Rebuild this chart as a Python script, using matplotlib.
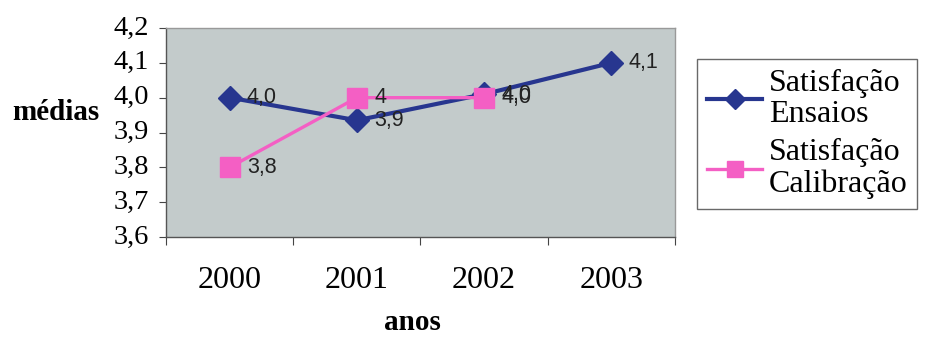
import matplotlib
matplotlib.use("Agg")
import matplotlib.pyplot as plt
from matplotlib.lines import Line2D

anos = ["2000", "2001", "2002", "2003"]
ensaios = [4.00, 3.935, 4.01, 4.10]
ensaios_lbl = ["4,0", "3,9", "4,0", "4,1"]
calibracao = [3.80, 4.00, 4.00]
calibracao_lbl = ["3,8", "4", "4,0"]
yticks = [3.6, 3.7, 3.8, 3.9, 4.0, 4.1, 4.2]
ytick_lbl = ["3,6", "3,7", "3,8", "3,9", "4,0", "4,1", "4,2"]

blue = "#27368f"
pink = "#f45fc4"
serif = "Liberation Serif"
sans = "Liberation Sans"

fig = plt.figure(figsize=(9.32, 3.4), dpi=100)
ax = fig.add_axes([166/932, 1-237/340, (675-166)/932, (237-28)/340])
ax.set_facecolor("#c3cbcb")

x = list(range(len(anos)))
ax.plot(x, ensaios, color=blue, lw=3.0, marker="D", ms=12, zorder=3)
ax.plot(x[:len(calibracao)], calibracao, color=pink, lw=2.4, marker="s", ms=15, zorder=4)

for xi, v, t in zip(x, ensaios, ensaios_lbl):
    ax.text(xi + 0.135, v, t, fontsize=15.5, family=sans, color="#222222", va="center", ha="left", zorder=5)
for xi, v, t in zip(x, calibracao, calibracao_lbl):
    ax.text(xi + 0.135, v, t, fontsize=15.5, family=sans, color="#222222", va="center", ha="left", zorder=5)

ax.set_xlim(-0.5, 3.5)
ax.set_ylim(3.6, 4.2)
ax.set_yticks(yticks)
ax.set_yticklabels(ytick_lbl, family=serif, fontsize=20.5)
ax.set_xticks([-0.5, 0.5, 1.5, 2.5, 3.5])
ax.set_xticklabels([])
ax.set_xticks(x, minor=True)
ax.set_xticklabels(anos, minor=True, family=serif, fontsize=23)
ax.tick_params(axis="x", which="minor", length=0, pad=21)
ax.tick_params(axis="x", which="major", length=6, color="#444444", direction="out")
ax.tick_params(axis="y", length=5, color="#444444", pad=7)
for lbl in ax.get_yticklabels():
    lbl.set_verticalalignment("center")

for s in ["top", "right"]:
    ax.spines[s].set_color("#999999")
    ax.spines[s].set_linewidth(1)
for s in ["left", "bottom"]:
    ax.spines[s].set_color("#555555")
    ax.spines[s].set_linewidth(1)

fig.text(12/932, 1-113/340, "médias", family=serif, fontweight="bold", fontsize=21, va="center", ha="left")
fig.text(412/932, 1-323/340, "anos", family=serif, fontweight="bold", fontsize=21, va="center", ha="center")

handles = [Line2D([], [], color=blue, lw=3.0, marker="D", ms=10),
           Line2D([], [], color=pink, lw=2.4, marker="s", ms=11)]
labels = ["Satisfação\nEnsaios", "Satisfação\nCalibração"]
leg = fig.legend(handles, labels, loc="upper left", bbox_to_anchor=(697/932, 1-59/340),
                 prop={"family": serif, "size": 23}, frameon=True, fancybox=False,
                 edgecolor="#444444", handlelength=1.75, handletextpad=0.2,
                 borderpad=0.3, labelspacing=0.3, borderaxespad=0)
leg.get_frame().set_linewidth(1)
for t in leg.get_texts():
    t.set_linespacing(1.1)

fig.savefig("out.png", dpi=100, facecolor="white")
